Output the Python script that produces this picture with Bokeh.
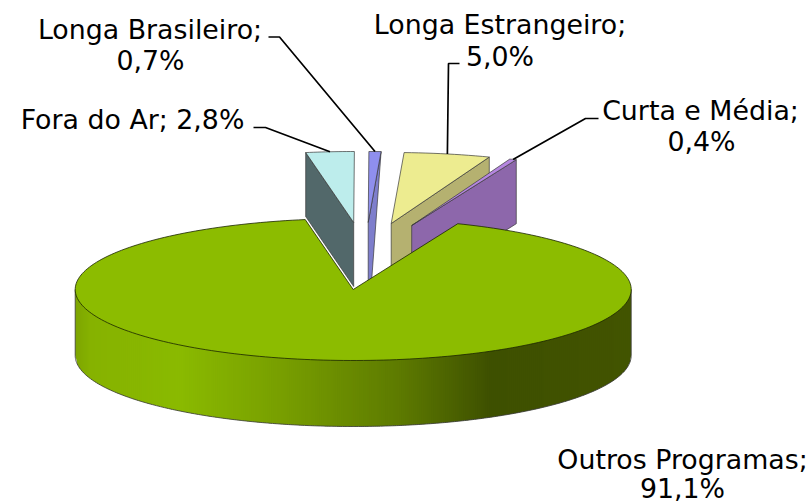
import math
from bokeh.plotting import figure
from bokeh.models import Range1d
from bokeh.core.properties import value
from bokeh.embed import file_html
from bokeh.resources import INLINE

# Data
categories = ["Outros Programas", "Fora do Ar", "Longa Brasileiro", "Longa Estrangeiro", "Curta e Média"]
shares = [91.1, 2.8, 0.7, 5.0, 0.4]
share_labels = ["91,1%", "2,8%", "0,7%", "5,0%", "0,4%"]

# Pie geometry (picture pixels)
CX, CY, RX, RY = 352.7, 289.0, 278.0, 71.0
WALL = 66.0
SLICE_WALL = 64.0
FIRST_ANGLE = 22.1  # clockwise from the top
EXPLODE = {"Fora do Ar": (0.5, -67), "Longa Brasileiro": (15, -67),
           "Longa Estrangeiro": (38, -66), "Curta e Média": (58.5, -64)}
TOP = {"Outros Programas": "#8CBC00", "Fora do Ar": "#BDEDEC", "Longa Brasileiro": "#8F8FEE",
       "Longa Estrangeiro": "#EDEC90", "Curta e Média": "#B586E0"}
SIDE = {"Fora do Ar": "#52686A", "Longa Brasileiro": "#7E7ECC",
        "Longa Estrangeiro": "#B5B170", "Curta e Média": "#8D67AB"}
EDGE = "#3a3a3a"
WALL_STOPS = [(75, (125, 165, 0)), (90, (134, 178, 0)), (180, (138, 186, 0)), (290, (118, 156, 0)),
              (400, (93, 122, 0)), (490, (62, 80, 0)), (631, (66, 84, 0))]

# Label layout: lines, centre x, centre y
LABEL_TEXT = {
    "Longa Brasileiro": [("Longa Brasileiro;", 149.5, 29), ("0,7%", 150, 60)],
    "Fora do Ar": [("Fora do Ar; 2,8%", 132, 119)],
    "Longa Estrangeiro": [("Longa Estrangeiro;", 499.5, 24), ("5,0%", 499.5, 56)],
    "Curta e Média": [("Curta e Média;", 700, 110), ("0,4%", 701, 141)],
    "Outros Programas": [("Outros Programas;", 682, 459), ("91,1%", 682, 488)],
}
# leader: start point and elbow
LEADER = {"Longa Brasileiro": ((268, 36.5), (279, 36.5)), "Fora do Ar": ((253, 127), (265, 127)),
          "Longa Estrangeiro": ((459, 63), (448, 63)), "Curta e Média": ((598, 118), (585, 118))}


def pt(cx, cy, deg):
    a = math.radians(deg)
    return cx + RX * math.sin(a), cy - RY * math.cos(a)


def arc(cx, cy, a0, a1, n=80):
    return [pt(cx, cy, a0 + (a1 - a0) * i / n) for i in range(n + 1)]


def wall_color(x):
    for (x0, c0), (x1, c1) in zip(WALL_STOPS, WALL_STOPS[1:]):
        if x <= x1:
            t = max(0.0, (x - x0) / (x1 - x0))
            return "#%02x%02x%02x" % tuple(round(a + (b - a) * t) for a, b in zip(c0, c1))
    return "#%02x%02x%02x" % WALL_STOPS[-1][1]


p = figure(width=812, height=504, x_range=Range1d(0, 812), y_range=Range1d(504, 0),
           toolbar_location=None, output_backend="svg", min_border=0)
p.axis.visible = False
p.grid.visible = False
p.outline_line_color = None
p.background_fill_color = "white"


def poly(points, fill, line=EDGE, width=0.7):
    p.patch([q[0] for q in points], [q[1] for q in points], fill_color=fill,
            line_color=line, line_width=width)


# Cumulative angles
angles = {}
a = FIRST_ANGLE
for name, v in zip(categories, shares):
    angles[name] = (a, a + v * 3.6)
    a += v * 3.6

# Exploded slices, back to front
for name in categories[1:]:
    a0, a1 = angles[name]
    dx, dy = EXPLODE[name]
    ax, ay = CX + dx, CY + dy
    if name == "Fora do Ar":
        q = pt(ax, ay, a0)
        face = [(ax, ay), q, (q[0], q[1] + SLICE_WALL), (ax, ay + SLICE_WALL)]
    elif name == "Longa Brasileiro":
        q = pt(ax, ay, a1)
        face = [(ax, ay), q, (ax + 3, ay + SLICE_WALL), (ax, ay + SLICE_WALL)]
    else:
        q = pt(ax, ay, a1)
        face = [(ax, ay), q, (q[0], q[1] + SLICE_WALL), (ax, ay + SLICE_WALL)]
    poly(face, SIDE[name])
    poly([(ax, ay)] + arc(ax, ay, a0, a1, 12), TOP[name])


# Wall of the large slice, painted as overlapping vertical strips
def rim(u):
    return CY + RY * math.sqrt(max(0.0, 1 - ((u - CX) / RX) ** 2))


xs, ys, cols = [], [], []
STEP = 2
x = CX - RX
while x < CX + RX:
    x1 = min(x + STEP + 1, CX + RX)
    xs.append([x, x1, x1, x])
    ys.append([rim(x) - 1, rim(x1) - 1, rim(x1) + WALL, rim(x) + WALL])
    cols.append(wall_color(x + STEP / 2))
    x += STEP
p.patches(xs, ys, fill_color=cols, line_color=None)

# Wall outline
low = arc(CX, CY + WALL, 90, 270, 160)
outline = [pt(CX, CY, 90)] + low + [pt(CX, CY, 270)]
p.line([q[0] for q in outline], [q[1] for q in outline], line_color=EDGE, line_width=0.8)

# Top of the large slice
a0, a1 = angles["Outros Programas"]
poly([(CX, CY)] + arc(CX, CY, a0, a1, 240), TOP["Outros Programas"], line="#1a2400", width=0.8)

# Leaders
for name, (start, elbow) in LEADER.items():
    a0, a1 = angles[name]
    dx, dy = EXPLODE[name]
    e = pt(CX + dx, CY + dy, (a0 + a1) / 2)
    p.line([start[0], elbow[0], e[0]], [start[1], elbow[1], e[1]], line_color="black", line_width=1.7)

# Labels
for name, lab in zip(categories, share_labels):
    for text, tx, ty in LABEL_TEXT[name]:
        p.text([tx], [ty], text=[text], text_font=value("DejaVu Sans"), text_font_size="26.8px",
               text_align="center", text_baseline="middle", text_color="black")

open("out.html", "w").write(file_html(p, INLINE))
